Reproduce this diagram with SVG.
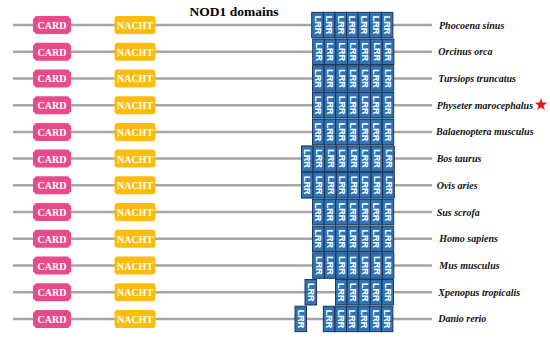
<svg xmlns="http://www.w3.org/2000/svg" width="550" height="341" viewBox="0 0 550 341">
<style>
.bb{stroke:#a6a6a6;stroke-width:2.5;fill:none}
.card{fill:#e84b8a}
.nacht{fill:#fbbc0c}
.dt{font-family:"Liberation Serif",serif;font-weight:bold;font-size:10px;fill:#fff;text-anchor:middle;dominant-baseline:central}
.lrr rect{fill:#2e74b8;stroke:#1b2a45;stroke-width:0.9}
.lrr text{font-family:"Liberation Sans",Arial,sans-serif;font-weight:bold;font-size:9px;fill:#fff;text-anchor:middle;dominant-baseline:central}
.lab{font-family:"Liberation Serif",serif;font-weight:bold;font-style:italic;font-size:10px;fill:#111;dominant-baseline:central}
</style>
<rect width="550" height="341" fill="#fff"/>
<text x="234" y="16" font-family="Liberation Serif,serif" font-weight="bold" font-size="13.5" text-anchor="middle" fill="#000">NOD1 domains</text>
<g id="connectors">
<line class="bb" x1="13" y1="25" x2="432" y2="25"/>
<line class="bb" x1="13" y1="51.7" x2="432" y2="51.7"/>
<line class="bb" x1="13" y1="78.4" x2="432" y2="78.4"/>
<line class="bb" x1="13" y1="105.2" x2="432" y2="105.2"/>
<line class="bb" x1="13" y1="131.9" x2="432" y2="131.9"/>
<line class="bb" x1="13" y1="158.6" x2="432" y2="158.6"/>
<line class="bb" x1="13" y1="185.3" x2="432" y2="185.3"/>
<line class="bb" x1="13" y1="212" x2="432" y2="212"/>
<line class="bb" x1="13" y1="238.8" x2="432" y2="238.8"/>
<line class="bb" x1="13" y1="265.5" x2="432" y2="265.5"/>
<line class="bb" x1="13" y1="292.2" x2="432" y2="292.2"/>
<line class="bb" x1="13" y1="318.9" x2="432" y2="318.9"/>
</g>
<defs>
<polygon id="cardshape" points="36,-9 68,-9 71,-6 71,6 68,9 36,9 33,6 33,-6"/>
</defs>

<g id="row1" transform="translate(0,25)">
<polygon class="card" points="36,-9 68,-9 71,-6 71,6 68,9 36,9 33,6 33,-6"/><text class="dt" x="52" y="0.5">CARD</text>
<rect class="nacht" x="114.5" y="-9" width="41" height="18" rx="3"/><text class="dt" x="135" y="0.5">NACHT</text>
<g class="lrr">
<rect x="311.7" y="-12.7" width="11.6" height="25.5"/><text transform="translate(317.5 0) rotate(90)">LRR</text>
<rect x="323.3" y="-12.7" width="11.6" height="25.5"/><text transform="translate(329.1 0) rotate(90)">LRR</text>
<rect x="334.9" y="-12.7" width="11.6" height="25.5"/><text transform="translate(340.7 0) rotate(90)">LRR</text>
<rect x="346.5" y="-12.7" width="11.6" height="25.5"/><text transform="translate(352.3 0) rotate(90)">LRR</text>
<rect x="358.1" y="-12.7" width="11.6" height="25.5"/><text transform="translate(363.9 0) rotate(90)">LRR</text>
<rect x="369.7" y="-12.7" width="11.6" height="25.5"/><text transform="translate(375.5 0) rotate(90)">LRR</text>
<rect x="381.3" y="-12.7" width="11.6" height="25.5"/><text transform="translate(387.1 0) rotate(90)">LRR</text>
</g>
<text class="lab" x="439" y="0">Phocoena sinus</text>
</g>

<g id="row2" transform="translate(0,51.7)">
<polygon class="card" points="36,-9 68,-9 71,-6 71,6 68,9 36,9 33,6 33,-6"/><text class="dt" x="52" y="0.5">CARD</text>
<rect class="nacht" x="114.5" y="-9" width="41" height="18" rx="3"/><text class="dt" x="135" y="0.5">NACHT</text>
<g class="lrr">
<rect x="312.7" y="-12.7" width="11.6" height="25.5"/><text transform="translate(318.5 0) rotate(90)">LRR</text>
<rect x="324.3" y="-12.7" width="11.6" height="25.5"/><text transform="translate(330.1 0) rotate(90)">LRR</text>
<rect x="335.9" y="-12.7" width="11.6" height="25.5"/><text transform="translate(341.7 0) rotate(90)">LRR</text>
<rect x="347.5" y="-12.7" width="11.6" height="25.5"/><text transform="translate(353.3 0) rotate(90)">LRR</text>
<rect x="359.1" y="-12.7" width="11.6" height="25.5"/><text transform="translate(364.9 0) rotate(90)">LRR</text>
<rect x="370.7" y="-12.7" width="11.6" height="25.5"/><text transform="translate(376.5 0) rotate(90)">LRR</text>
<rect x="382.3" y="-12.7" width="11.6" height="25.5"/><text transform="translate(388.1 0) rotate(90)">LRR</text>
</g>
<text class="lab" x="438.3" y="0">Orcinus orca</text>
</g>

<g id="row3" transform="translate(0,78.4)">
<polygon class="card" points="36,-9 68,-9 71,-6 71,6 68,9 36,9 33,6 33,-6"/><text class="dt" x="52" y="0.5">CARD</text>
<rect class="nacht" x="114.5" y="-9" width="41" height="18" rx="3"/><text class="dt" x="135" y="0.5">NACHT</text>
<g class="lrr">
<rect x="312.5" y="-12.7" width="11.6" height="25.5"/><text transform="translate(318.3 0) rotate(90)">LRR</text>
<rect x="324.1" y="-12.7" width="11.6" height="25.5"/><text transform="translate(329.9 0) rotate(90)">LRR</text>
<rect x="335.7" y="-12.7" width="11.6" height="25.5"/><text transform="translate(341.5 0) rotate(90)">LRR</text>
<rect x="347.3" y="-12.7" width="11.6" height="25.5"/><text transform="translate(353.1 0) rotate(90)">LRR</text>
<rect x="358.9" y="-12.7" width="11.6" height="25.5"/><text transform="translate(364.7 0) rotate(90)">LRR</text>
<rect x="370.5" y="-12.7" width="11.6" height="25.5"/><text transform="translate(376.3 0) rotate(90)">LRR</text>
<rect x="382.1" y="-12.7" width="11.6" height="25.5"/><text transform="translate(387.9 0) rotate(90)">LRR</text>
</g>
<text class="lab" x="438.3" y="0">Tursiops truncatus</text>
</g>

<g id="row4" transform="translate(0,105.2)">
<polygon class="card" points="36,-9 68,-9 71,-6 71,6 68,9 36,9 33,6 33,-6"/><text class="dt" x="52" y="0.5">CARD</text>
<rect class="nacht" x="114.5" y="-9" width="41" height="18" rx="3"/><text class="dt" x="135" y="0.5">NACHT</text>
<g class="lrr">
<rect x="312.5" y="-12.7" width="11.6" height="25.5"/><text transform="translate(318.3 0) rotate(90)">LRR</text>
<rect x="324.1" y="-12.7" width="11.6" height="25.5"/><text transform="translate(329.9 0) rotate(90)">LRR</text>
<rect x="335.7" y="-12.7" width="11.6" height="25.5"/><text transform="translate(341.5 0) rotate(90)">LRR</text>
<rect x="347.3" y="-12.7" width="11.6" height="25.5"/><text transform="translate(353.1 0) rotate(90)">LRR</text>
<rect x="358.9" y="-12.7" width="11.6" height="25.5"/><text transform="translate(364.7 0) rotate(90)">LRR</text>
<rect x="370.5" y="-12.7" width="11.6" height="25.5"/><text transform="translate(376.3 0) rotate(90)">LRR</text>
<rect x="382.1" y="-12.7" width="11.6" height="25.5"/><text transform="translate(387.9 0) rotate(90)">LRR</text>
</g>
<text class="lab" x="436.7" y="0">Physeter marocephalus</text>
<polygon fill="#ee1111" transform="translate(541 -0.5)" points="0,-6.5 1.53,-2.1 6.18,-2.01 2.47,0.8 3.82,5.26 0,2.6 -3.82,5.26 -2.47,0.8 -6.18,-2.01 -1.53,-2.1"/>
</g>

<g id="row5" transform="translate(0,131.9)">
<polygon class="card" points="36,-9 68,-9 71,-6 71,6 68,9 36,9 33,6 33,-6"/><text class="dt" x="52" y="0.5">CARD</text>
<rect class="nacht" x="114.5" y="-9" width="41" height="18" rx="3"/><text class="dt" x="135" y="0.5">NACHT</text>
<g class="lrr">
<rect x="312.5" y="-12.7" width="11.6" height="25.5"/><text transform="translate(318.3 0) rotate(90)">LRR</text>
<rect x="324.1" y="-12.7" width="11.6" height="25.5"/><text transform="translate(329.9 0) rotate(90)">LRR</text>
<rect x="335.7" y="-12.7" width="11.6" height="25.5"/><text transform="translate(341.5 0) rotate(90)">LRR</text>
<rect x="347.3" y="-12.7" width="11.6" height="25.5"/><text transform="translate(353.1 0) rotate(90)">LRR</text>
<rect x="358.9" y="-12.7" width="11.6" height="25.5"/><text transform="translate(364.7 0) rotate(90)">LRR</text>
<rect x="370.5" y="-12.7" width="11.6" height="25.5"/><text transform="translate(376.3 0) rotate(90)">LRR</text>
<rect x="382.1" y="-12.7" width="11.6" height="25.5"/><text transform="translate(387.9 0) rotate(90)">LRR</text>
</g>
<text class="lab" x="436" y="0">Balaenoptera musculus</text>
</g>

<g id="row6" transform="translate(0,158.6)">
<polygon class="card" points="36,-9 68,-9 71,-6 71,6 68,9 36,9 33,6 33,-6"/><text class="dt" x="52" y="0.5">CARD</text>
<rect class="nacht" x="114.5" y="-9" width="41" height="18" rx="3"/><text class="dt" x="135" y="0.5">NACHT</text>
<g class="lrr">
<rect x="301.5" y="-12.7" width="11.6" height="25.5"/><text transform="translate(307.3 0) rotate(90)">LRR</text>
<rect x="313.1" y="-12.7" width="11.6" height="25.5"/><text transform="translate(318.9 0) rotate(90)">LRR</text>
<rect x="324.7" y="-12.7" width="11.6" height="25.5"/><text transform="translate(330.5 0) rotate(90)">LRR</text>
<rect x="336.3" y="-12.7" width="11.6" height="25.5"/><text transform="translate(342.1 0) rotate(90)">LRR</text>
<rect x="347.9" y="-12.7" width="11.6" height="25.5"/><text transform="translate(353.7 0) rotate(90)">LRR</text>
<rect x="359.5" y="-12.7" width="11.6" height="25.5"/><text transform="translate(365.3 0) rotate(90)">LRR</text>
<rect x="371.1" y="-12.7" width="11.6" height="25.5"/><text transform="translate(376.9 0) rotate(90)">LRR</text>
<rect x="382.7" y="-12.7" width="11.6" height="25.5"/><text transform="translate(388.5 0) rotate(90)">LRR</text>
</g>
<text class="lab" x="436.7" y="0">Bos taurus</text>
</g>

<g id="row7" transform="translate(0,185.3)">
<polygon class="card" points="36,-9 68,-9 71,-6 71,6 68,9 36,9 33,6 33,-6"/><text class="dt" x="52" y="0.5">CARD</text>
<rect class="nacht" x="114.5" y="-9" width="41" height="18" rx="3"/><text class="dt" x="135" y="0.5">NACHT</text>
<g class="lrr">
<rect x="301.5" y="-12.7" width="11.6" height="25.5"/><text transform="translate(307.3 0) rotate(90)">LRR</text>
<rect x="313.1" y="-12.7" width="11.6" height="25.5"/><text transform="translate(318.9 0) rotate(90)">LRR</text>
<rect x="324.7" y="-12.7" width="11.6" height="25.5"/><text transform="translate(330.5 0) rotate(90)">LRR</text>
<rect x="336.3" y="-12.7" width="11.6" height="25.5"/><text transform="translate(342.1 0) rotate(90)">LRR</text>
<rect x="347.9" y="-12.7" width="11.6" height="25.5"/><text transform="translate(353.7 0) rotate(90)">LRR</text>
<rect x="359.5" y="-12.7" width="11.6" height="25.5"/><text transform="translate(365.3 0) rotate(90)">LRR</text>
<rect x="371.1" y="-12.7" width="11.6" height="25.5"/><text transform="translate(376.9 0) rotate(90)">LRR</text>
<rect x="382.7" y="-12.7" width="11.6" height="25.5"/><text transform="translate(388.5 0) rotate(90)">LRR</text>
</g>
<text class="lab" x="436.7" y="0">Ovis aries</text>
</g>

<g id="row8" transform="translate(0,212)">
<polygon class="card" points="36,-9 68,-9 71,-6 71,6 68,9 36,9 33,6 33,-6"/><text class="dt" x="52" y="0.5">CARD</text>
<rect class="nacht" x="114.5" y="-9" width="41" height="18" rx="3"/><text class="dt" x="135" y="0.5">NACHT</text>
<g class="lrr">
<rect x="312.5" y="-12.7" width="11.6" height="25.5"/><text transform="translate(318.3 0) rotate(90)">LRR</text>
<rect x="324.1" y="-12.7" width="11.6" height="25.5"/><text transform="translate(329.9 0) rotate(90)">LRR</text>
<rect x="335.7" y="-12.7" width="11.6" height="25.5"/><text transform="translate(341.5 0) rotate(90)">LRR</text>
<rect x="347.3" y="-12.7" width="11.6" height="25.5"/><text transform="translate(353.1 0) rotate(90)">LRR</text>
<rect x="358.9" y="-12.7" width="11.6" height="25.5"/><text transform="translate(364.7 0) rotate(90)">LRR</text>
<rect x="370.5" y="-12.7" width="11.6" height="25.5"/><text transform="translate(376.3 0) rotate(90)">LRR</text>
<rect x="382.1" y="-12.7" width="11.6" height="25.5"/><text transform="translate(387.9 0) rotate(90)">LRR</text>
</g>
<text class="lab" x="436.7" y="0">Sus scrofa</text>
</g>

<g id="row9" transform="translate(0,238.8)">
<polygon class="card" points="36,-9 68,-9 71,-6 71,6 68,9 36,9 33,6 33,-6"/><text class="dt" x="52" y="0.5">CARD</text>
<rect class="nacht" x="114.5" y="-9" width="41" height="18" rx="3"/><text class="dt" x="135" y="0.5">NACHT</text>
<g class="lrr">
<rect x="312.5" y="-12.7" width="11.6" height="25.5"/><text transform="translate(318.3 0) rotate(90)">LRR</text>
<rect x="324.1" y="-12.7" width="11.6" height="25.5"/><text transform="translate(329.9 0) rotate(90)">LRR</text>
<rect x="335.7" y="-12.7" width="11.6" height="25.5"/><text transform="translate(341.5 0) rotate(90)">LRR</text>
<rect x="347.3" y="-12.7" width="11.6" height="25.5"/><text transform="translate(353.1 0) rotate(90)">LRR</text>
<rect x="358.9" y="-12.7" width="11.6" height="25.5"/><text transform="translate(364.7 0) rotate(90)">LRR</text>
<rect x="370.5" y="-12.7" width="11.6" height="25.5"/><text transform="translate(376.3 0) rotate(90)">LRR</text>
<rect x="382.1" y="-12.7" width="11.6" height="25.5"/><text transform="translate(387.9 0) rotate(90)">LRR</text>
</g>
<text class="lab" x="439.3" y="0">Homo sapiens</text>
</g>

<g id="row10" transform="translate(0,265.5)">
<polygon class="card" points="36,-9 68,-9 71,-6 71,6 68,9 36,9 33,6 33,-6"/><text class="dt" x="52" y="0.5">CARD</text>
<rect class="nacht" x="114.5" y="-9" width="41" height="18" rx="3"/><text class="dt" x="135" y="0.5">NACHT</text>
<g class="lrr">
<rect x="312.7" y="-12.7" width="11.6" height="25.5"/><text transform="translate(318.5 0) rotate(90)">LRR</text>
<rect x="324.3" y="-12.7" width="11.6" height="25.5"/><text transform="translate(330.1 0) rotate(90)">LRR</text>
<rect x="335.9" y="-12.7" width="11.6" height="25.5"/><text transform="translate(341.7 0) rotate(90)">LRR</text>
<rect x="347.5" y="-12.7" width="11.6" height="25.5"/><text transform="translate(353.3 0) rotate(90)">LRR</text>
<rect x="359.1" y="-12.7" width="11.6" height="25.5"/><text transform="translate(364.9 0) rotate(90)">LRR</text>
<rect x="370.7" y="-12.7" width="11.6" height="25.5"/><text transform="translate(376.5 0) rotate(90)">LRR</text>
<rect x="382.3" y="-12.7" width="11.6" height="25.5"/><text transform="translate(388.1 0) rotate(90)">LRR</text>
</g>
<text class="lab" x="439.3" y="0">Mus musculus</text>
</g>

<g id="row11" transform="translate(0,292.2)">
<polygon class="card" points="36,-9 68,-9 71,-6 71,6 68,9 36,9 33,6 33,-6"/><text class="dt" x="52" y="0.5">CARD</text>
<rect class="nacht" x="114.5" y="-9" width="41" height="18" rx="3"/><text class="dt" x="135" y="0.5">NACHT</text>
<g class="lrr">
<rect x="305" y="-12.7" width="11.6" height="25.5"/><text transform="translate(310.8 0) rotate(90)">LRR</text>
<rect x="335.5" y="-12.7" width="11.6" height="25.5"/><text transform="translate(341.3 0) rotate(90)">LRR</text>
<rect x="347.1" y="-12.7" width="11.6" height="25.5"/><text transform="translate(352.9 0) rotate(90)">LRR</text>
<rect x="358.7" y="-12.7" width="11.6" height="25.5"/><text transform="translate(364.5 0) rotate(90)">LRR</text>
<rect x="370.3" y="-12.7" width="11.6" height="25.5"/><text transform="translate(376.1 0) rotate(90)">LRR</text>
<rect x="381.9" y="-12.7" width="11.6" height="25.5"/><text transform="translate(387.7 0) rotate(90)">LRR</text>
</g>
<text class="lab" x="438.3" y="0">Xpenopus tropicalis</text>
</g>

<g id="row12" transform="translate(0,318.9)">
<polygon class="card" points="36,-9 68,-9 71,-6 71,6 68,9 36,9 33,6 33,-6"/><text class="dt" x="52" y="0.5">CARD</text>
<rect class="nacht" x="114.5" y="-9" width="41" height="18" rx="3"/><text class="dt" x="135" y="0.5">NACHT</text>
<g class="lrr">
<rect x="295" y="-12.7" width="11.6" height="25.5"/><text transform="translate(300.8 0) rotate(90)">LRR</text>
<rect x="323.3" y="-12.7" width="11.6" height="25.5"/><text transform="translate(329.1 0) rotate(90)">LRR</text>
<rect x="334.9" y="-12.7" width="11.6" height="25.5"/><text transform="translate(340.7 0) rotate(90)">LRR</text>
<rect x="346.5" y="-12.7" width="11.6" height="25.5"/><text transform="translate(352.3 0) rotate(90)">LRR</text>
<rect x="358.1" y="-12.7" width="11.6" height="25.5"/><text transform="translate(363.9 0) rotate(90)">LRR</text>
<rect x="369.7" y="-12.7" width="11.6" height="25.5"/><text transform="translate(375.5 0) rotate(90)">LRR</text>
<rect x="381.3" y="-12.7" width="11.6" height="25.5"/><text transform="translate(387.1 0) rotate(90)">LRR</text>
</g>
<text class="lab" x="438.3" y="0">Danio rerio</text>
</g>
</svg>
